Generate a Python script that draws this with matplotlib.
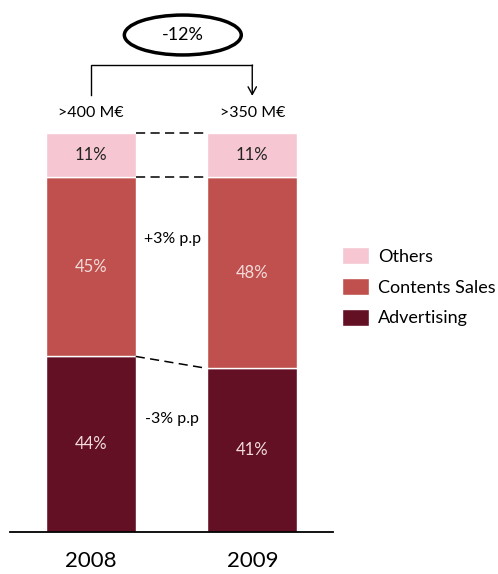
import matplotlib
matplotlib.use('Agg')
import matplotlib.pyplot as plt
from matplotlib.patches import Ellipse

plt.rcParams['font.family'] = ['Lato', 'DejaVu Sans']

years = ['2008', '2009']
advertising = [44, 41]
contents = [45, 48]
others = [11, 11]
totals = ['>400 M€', '>350 M€']
revenue_change = '-12%'

c_adv = '#631024'
c_cont = '#C0504D'
c_oth = '#F6C7D2'

fig = plt.figure(figsize=(4.98, 5.74), dpi=100)
ax = fig.add_axes([10 / 498, 42 / 574, 323 / 498, 532 / 574])

x = [0, 1]
w = 0.557
adv = [v / 100 for v in advertising]
cont = [v / 100 for v in contents]
oth = [v / 100 for v in others]
mid = [a + c for a, c in zip(adv, cont)]

b_adv = ax.bar(x, adv, w, color=c_adv, edgecolor='white', linewidth=1, label='Advertising')
b_cont = ax.bar(x, cont, w, bottom=adv, color=c_cont, edgecolor='white', linewidth=1, label='Contents Sales')
b_oth = ax.bar(x, oth, w, bottom=mid, color=c_oth, edgecolor='white', linewidth=1, label='Others')

# segment labels
for i in x:
    ax.text(i, adv[i] / 2, f'{advertising[i]}%', ha='center', va='center',
            color='#F2DCDB', fontsize=12)
    ax.text(i, adv[i] + cont[i] / 2, f'{contents[i]}%', ha='center', va='center',
            color='#F2DCDB', fontsize=12)
    ax.text(i, mid[i] + oth[i] / 2, f'{others[i]}%', ha='center', va='center',
            color='#222222', fontsize=12)
    ax.text(i, 1.050, totals[i], ha='center', va='center', fontsize=11.5, color='black')

# dashed connectors between bars
x0, x1 = w / 2, 1 - w / 2
for ya, yb in [(1.0, 1.0), (mid[0], mid[1]), (adv[0], adv[1])]:
    ax.plot([x0, x1], [ya, yb], color='black', linewidth=1.1, dashes=(6, 3.5))

d_cont = contents[1] - contents[0]
d_adv = advertising[1] - advertising[0]
ax.text(0.508, 0.734, f'{d_cont:+d}% p.p', ha='center', va='center', fontsize=11.5)
ax.text(0.500, 0.283, f'{d_adv:+d}% p.p', ha='center', va='center', fontsize=11.5)

# bracket with arrow and change bubble
ax.plot([0, 0, 1], [1.095, 1.170, 1.170], color='black', linewidth=1, solid_joinstyle='miter')
ax.annotate('', xy=(1, 1.093), xytext=(1, 1.1705),
            arrowprops=dict(arrowstyle='->,head_length=0.55,head_width=0.3',
                            color='black', linewidth=1, shrinkA=0, shrinkB=0))
ax.add_patch(Ellipse((0.570, 1.2456), 0.724, 0.100, facecolor='white',
                     edgecolor='black', linewidth=2.5, clip_on=False))
ax.text(0.570, 1.2456, revenue_change, ha='center', va='center', fontsize=13)

ax.set_xlim(-0.5, 1.5)
ax.set_ylim(0, 532 / 399)
for s in ['top', 'left', 'right']:
    ax.spines[s].set_visible(False)
ax.spines['bottom'].set_linewidth(1.3)
ax.set_yticks([])
ax.set_xticks(x)
ax.set_xticklabels(years, fontsize=16)
ax.tick_params(axis='x', length=0, pad=14)

fig.legend(handles=[b_oth, b_cont, b_adv], loc='upper left',
           bbox_to_anchor=(342 / 498, 1 - 247 / 574), frameon=False,
           fontsize=13, handlelength=1.5, handleheight=1.1,
           handletextpad=0.5, labelspacing=0.72, borderpad=0, borderaxespad=0)

fig.savefig('out.png', dpi=100)
